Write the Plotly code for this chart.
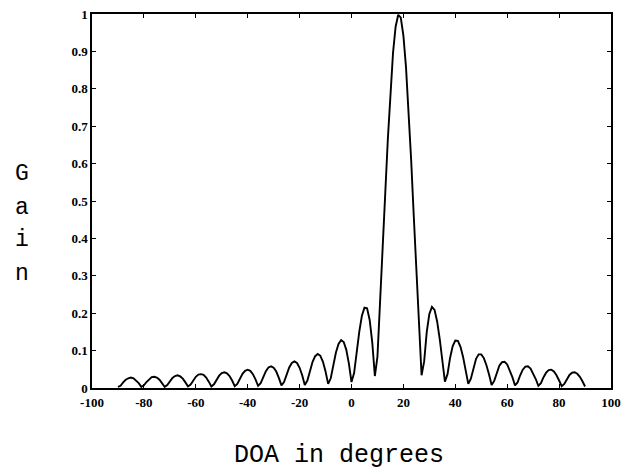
import plotly.graph_objects as go

# DOA angles (degrees), sampled every 1 degree from -90 to 90
doa_deg = list(range(-90, 91))

# Gain values (one per degree)
gain = [
    0.003, 0.006, 0.015, 0.022, 0.026, 0.028, 0.026, 0.020, 0.013,   # -90..-82
    0.003, 0.007, 0.016, 0.024, 0.029, 0.030, 0.028, 0.022, 0.014,   # -81..-73
    0.003, 0.008, 0.018, 0.027, 0.032, 0.034, 0.031, 0.025, 0.015,   # -72..-64
    0.004, 0.009, 0.020, 0.030, 0.036, 0.037, 0.035, 0.028, 0.017,   # -63..-55
    0.004, 0.010, 0.023, 0.033, 0.040, 0.042, 0.039, 0.032, 0.020,   # -54..-46
    0.005, 0.011, 0.026, 0.038, 0.046, 0.049, 0.046, 0.037, 0.023,   # -45..-37
    0.006, 0.013, 0.031, 0.045, 0.055, 0.058, 0.054, 0.044, 0.027,   # -36..-28
    0.007, 0.016, 0.037, 0.055, 0.067, 0.071, 0.067, 0.054, 0.034,   # -27..-19
    0.008, 0.020, 0.047, 0.070, 0.085, 0.091, 0.086, 0.070, 0.044,   # -18..-10
    0.011, 0.026, 0.063, 0.095, 0.118, 0.128, 0.123, 0.102, 0.065,   # -9..-1
    0.016, 0.040, 0.098, 0.151, 0.193, 0.215, 0.213, 0.182, 0.122,   # 0..8
    0.032, 0.084, 0.219, 0.368, 0.520, 0.665, 0.793, 0.896, 0.966,   # 9..17
    0.998, 0.990, 0.942, 0.858, 0.744, 0.608, 0.459, 0.308, 0.163,   # 18..26
    0.034, 0.071, 0.150, 0.198, 0.217, 0.209, 0.178, 0.131, 0.075,   # 27..35
    0.017, 0.037, 0.081, 0.112, 0.127, 0.126, 0.110, 0.083, 0.049,   # 36..44
    0.011, 0.025, 0.056, 0.078, 0.090, 0.090, 0.080, 0.061, 0.036,   # 45..53
    0.008, 0.019, 0.042, 0.060, 0.069, 0.070, 0.063, 0.048, 0.029,   # 54..62
    0.007, 0.015, 0.034, 0.049, 0.057, 0.058, 0.052, 0.040, 0.024,   # 63..71
    0.006, 0.013, 0.029, 0.041, 0.048, 0.049, 0.044, 0.034, 0.020,   # 72..80
    0.005, 0.011, 0.025, 0.035, 0.041, 0.042, 0.038, 0.030, 0.018,   # 81..89
    0.004,                                                           # 90
]

x_ticks = [-100, -80, -60, -40, -20, 0, 20, 40, 60, 80, 100]
x_tick_labels = ["-100", "-80", "-60", "-40", "-20", "0", "20", "40", "60", "80", "100"]
y_ticks = [0, 0.1, 0.2, 0.3, 0.4, 0.5, 0.6, 0.7, 0.8, 0.9, 1]
y_tick_labels = ["0", "0.1", "0.2", "0.3", "0.4", "0.5", "0.6", "0.7", "0.8", "0.9", "1"]

y_title_letters = ["G", "a", "i", "n"]
y_title_pos = [0.572, 0.481, 0.396, 0.305]

fig = go.Figure()
fig.add_trace(go.Scatter(
    x=doa_deg, y=gain, mode="lines",
    line=dict(color="black", width=1.9),
    showlegend=False,
))

tick_font = dict(family="Liberation Serif", size=13, color="black", weight="bold")

fig.update_layout(
    width=625, height=469,
    margin=dict(l=92, r=14, t=14, b=81),
    paper_bgcolor="white", plot_bgcolor="white",
    xaxis=dict(
        range=[-100, 100], tickvals=x_ticks, ticktext=x_tick_labels,
        ticks="inside", ticklen=4, tickwidth=1.2, tickcolor="black",
        showline=True, linecolor="black", linewidth=1.5, mirror="ticks",
        showgrid=False, zeroline=False, automargin=False,
        ticklabelstandoff=2,
        tickfont=tick_font,
    ),
    yaxis=dict(
        range=[0, 1], tickvals=y_ticks, ticktext=y_tick_labels,
        ticks="inside", ticklen=4, tickwidth=1.2, tickcolor="black",
        showline=True, linecolor="black", linewidth=1.5, mirror="ticks",
        showgrid=False, zeroline=False, automargin=False,
        tickfont=tick_font,
    ),
)

for letter, yp in zip(y_title_letters, y_title_pos):
    fig.add_annotation(
        text=letter, xref="paper", yref="paper", x=-0.135, y=yp,
        showarrow=False, xanchor="center", yanchor="middle",
        font=dict(family="Liberation Mono", size=23, color="black"),
    )

fig.add_annotation(
    text="DOA in degrees", xref="paper", yref="paper", x=0.475, y=-0.18,
    showarrow=False, xanchor="center", yanchor="middle",
    font=dict(family="Liberation Mono", size=25, color="black"),
)

fig.write_html("out.html")
